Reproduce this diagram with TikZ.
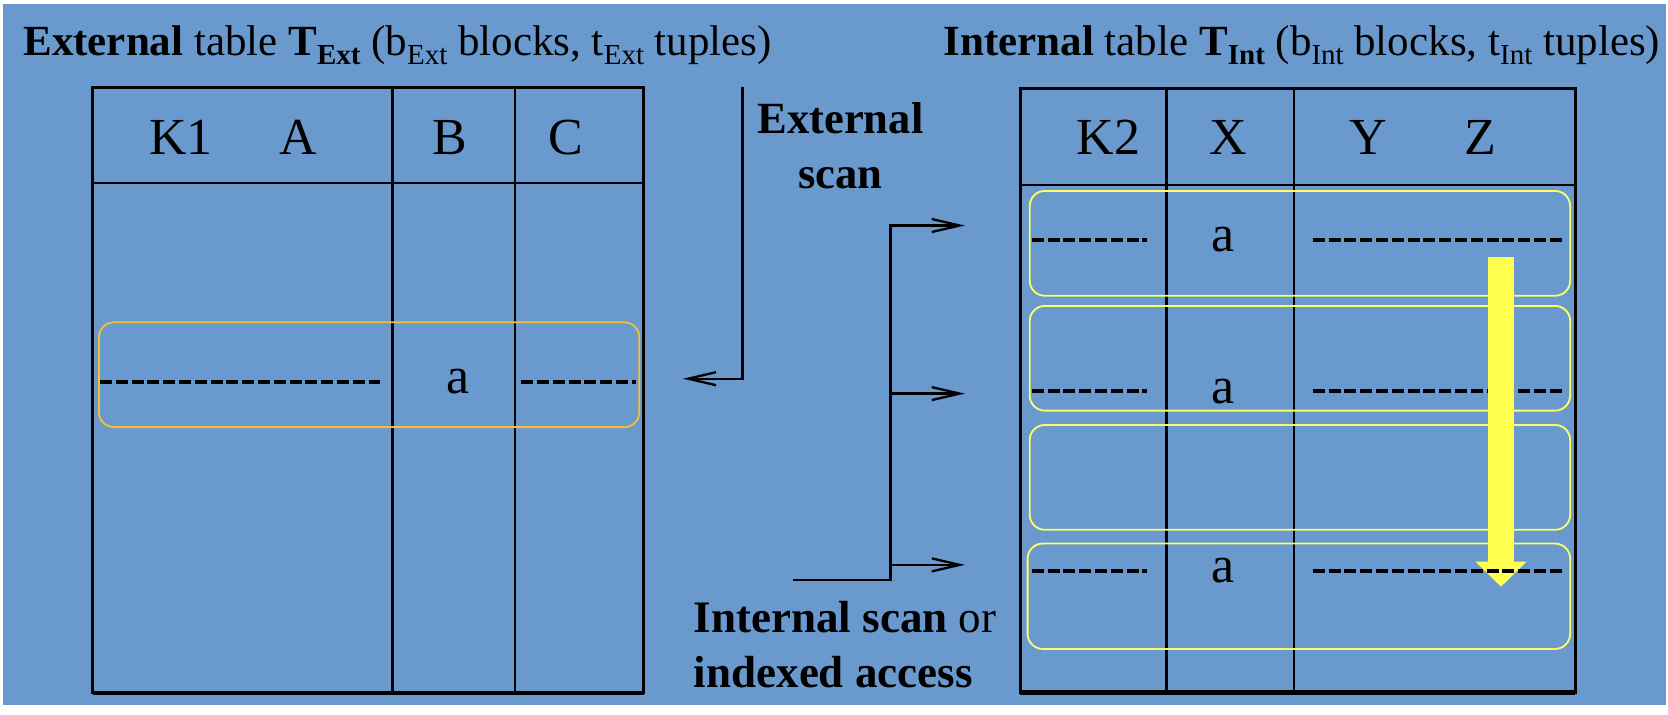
\documentclass[tikz,border=0pt]{standalone}
\usepackage{fontspec}
\setmainfont{Liberation Serif}
\usetikzlibrary{arrows.meta,fit}
\definecolor{bg}{RGB}{106,153,206}
\definecolor{orangebox}{RGB}{242,190,60}
\definecolor{yelbox}{RGB}{255,255,100}
\definecolor{yelarrow}{RGB}{255,255,80}
\newcommand\sbs[1]{\raisebox{-4.5pt}{\fontsize{14.5}{14.5}\selectfont #1}}
\begin{document}
\begin{tikzpicture}[x=0.5319pt,y=-0.5319pt,
  tbl/.style={line width=1.35pt,black},
  rowbox/.style={draw, line width=0.9pt, rounded corners=7.5pt, inner sep=0pt},
  dashline/.style={line width=2pt, dash pattern=on 6pt off 1.9pt},
  conn/.style={line width=1.15pt, -{Straight Barb[length=14pt,width=6.5pt,line width=1.15pt]}},
  hdr/.style={font=\fontsize{26}{30}\selectfont, inner sep=0pt},
  cell/.style={font=\fontsize{26}{30}\selectfont, inner sep=0pt},
  ttl/.style={font=\fontsize{21.5}{25}\selectfont, inner sep=0pt},
  lbl/.style={inner sep=0pt}]
\useasboundingbox (0,0) rectangle (1568,671.2);
\fill[white] (0,0) rectangle (1568,671.2);
\fill[bg] (3,4) rectangle (1566,662.7);

% titles
\node[ttl, anchor=base west] (ttlext) at (21.6,52.6) {\textbf{External} table \textbf{T\sbs{Ext}} (b\sbs{Ext} blocks, t\sbs{Ext} tuples)};
\node[ttl, anchor=base east] (ttlint) at (1561,52.6) {\textbf{Internal} table \textbf{T\sbs{Int}} (b\sbs{Int} blocks, t\sbs{Int} tuples)};

% left table
\draw[tbl] (87,82) rectangle (605,651.5);
\draw[tbl] (87,172) -- (605,172);
\draw[tbl] (369,82) -- (369,651.5);
\draw[tbl] (484,82) -- (484,651.5);
\draw[line width=2.2pt] (87,651.5) -- (605,651.5);
\node[hdr] (hK1) at (170,129) {K1};
\node[hdr] (hA) at (280,129) {A};
\node[hdr] (hB) at (423,129) {B};
\node[hdr] (hC) at (532,129) {C};

% right table
\draw[tbl] (959,83) rectangle (1481,651);
\draw[tbl] (959,174) -- (1481,174);
\draw[tbl] (1096.5,83) -- (1096.5,651);
\draw[tbl] (1216.5,83) -- (1216.5,651);
\draw[line width=2.2pt] (959,651) -- (1481,651);
\node[hdr] (hK2) at (1042,129) {K2};
\node[hdr] (hX) at (1155,129) {X};
\node[hdr] (hY) at (1286,129) {Y};
\node[hdr] (hZ) at (1392,129) {Z};

% row boxes
\node[rowbox, draw=orangebox, fit={(93,303) (601,401.5)}] (extrow) {};
\node[rowbox, draw=yelbox, fit={(968,179.5) (1476,278)}] (introw1) {};
\node[rowbox, draw=yelbox, fit={(968,287.6) (1476,386)}] (introw2) {};
\node[rowbox, draw=yelbox, fit={(968,399.5) (1476,498)}] (introw3) {};
\node[rowbox, draw=yelbox, fit={(966,511) (1476,610)}] (introw4) {};

% left row content
\draw[dashline] (94,359) -- (357,359);
\draw[dashline] (490,359) -- (598,359);
\node[cell] (ca0) at (430.5,359) {a};

% right row contents
\draw[dashline] (970,225.6) -- (1078,225.6);
\draw[dashline] (1234,225.6) -- (1468,225.6);
\node[cell] (ca1) at (1150,225) {a};
\draw[dashline] (970,368) -- (1078,368);
\draw[dashline] (1234,368) -- (1468,368);
\node[cell] (ca2) at (1150,368) {a};

% yellow scan arrow
\fill[yelarrow] (1399,241.6) -- (1423,241.6) -- (1423,528) -- (1435,528) -- (1411,551.5) -- (1387,528) -- (1399,528) -- cycle;

\draw[dashline] (970,537) -- (1078,537);
\draw[dashline] (1234,537) -- (1468,537);
\node[cell] (ca4) at (1150,536) {a};

% external scan connector
\coordinate (es0) at (698,82);
\coordinate (es1) at (642,356);
\draw[conn] (es0) |- (es1);
\node[lbl, font=\fontsize{22.3}{27.5}\selectfont\bfseries, align=center] (extscan) at (790,136.6) {External\\scan};

% internal scan connector
\coordinate (is0) at (745,545);
\coordinate (isj) at (837,545);
\coordinate (b1) at (837,212);
\coordinate (b2) at (837,370);
\coordinate (b3) at (837,531);
\coordinate (ia1) at (907,212);
\coordinate (ia2) at (907,370);
\coordinate (ia3) at (907,531);
\draw[conn] (is0) -- (isj) -- (b1) -- (ia1);
\draw[conn] (b2) -- (ia2);
\draw[conn] (b3) -- (ia3);
\node[lbl, font=\fontsize{22.5}{27.5}\selectfont, anchor=west, align=left] (intscan) at (652,605.5) {\textbf{Internal scan} or\\\textbf{indexed access}};
\end{tikzpicture}
\end{document}
